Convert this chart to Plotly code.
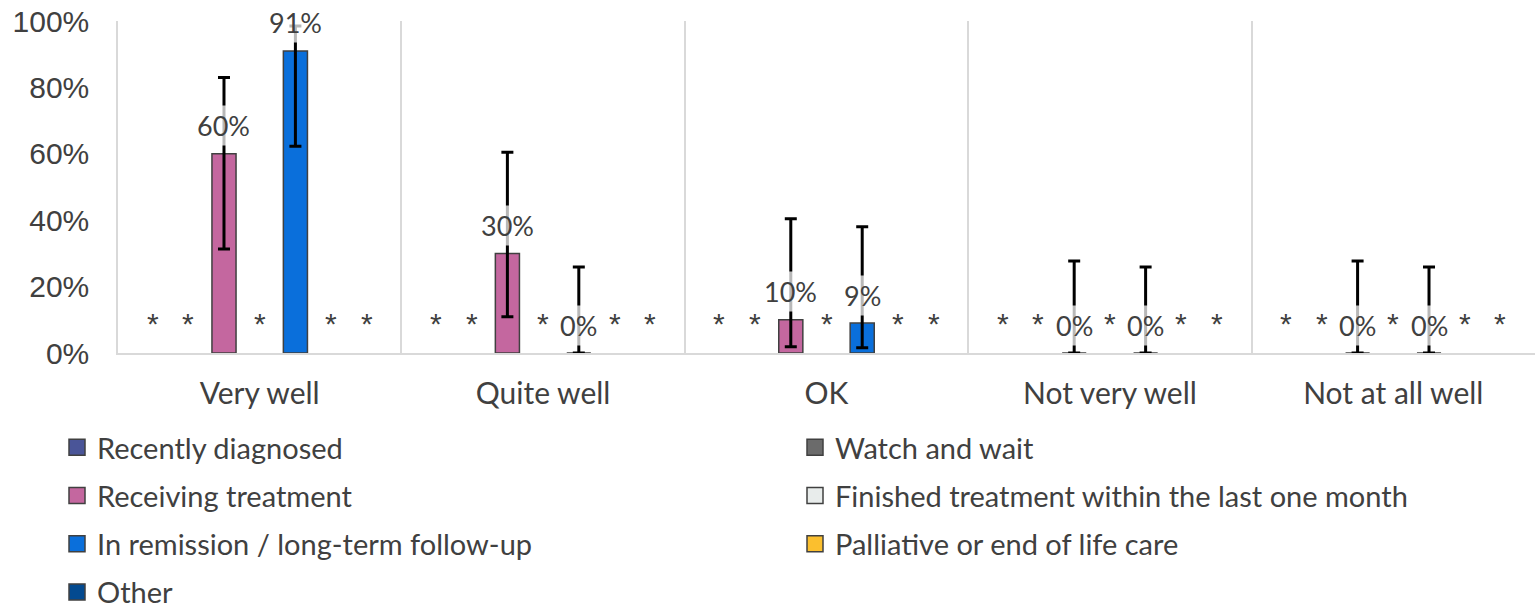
import plotly.graph_objects as go

categories = ["Very well", "Quite well", "OK", "Not very well", "Not at all well"]
series_names = [
    "Recently diagnosed",
    "Watch and wait",
    "Receiving treatment",
    "Finished treatment within the last one month",
    "In remission / long-term follow-up",
    "Palliative or end of life care",
    "Other",
]
series_colors = ["#4A5598", "#6B6B6B", "#C4679F", "#E8ECEB", "#0A6FDB", "#FBBF2E", "#034A90"]

# None = suppressed value (shown as "*")
values = {
    "Recently diagnosed": [None, None, None, None, None],
    "Watch and wait": [None, None, None, None, None],
    "Receiving treatment": [60, 30, 10, 0, 0],
    "Finished treatment within the last one month": [None, None, None, None, None],
    "In remission / long-term follow-up": [91, 0, 9, 0, 0],
    "Palliative or end of life care": [None, None, None, None, None],
    "Other": [None, None, None, None, None],
}
err_plus = {
    "Receiving treatment": [23, 30.5, 30.4, 27.7, 27.7],
    "In remission / long-term follow-up": [7.5, 25.9, 29, 25.9, 25.9],
}
err_minus = {
    "Receiving treatment": [28.7, 19.1, 8.1, 0, 0],
    "In remission / long-term follow-up": [28.7, 0, 7.4, 0, 0],
}

ytick_vals = [0, 20, 40, 60, 80, 100]
ytick_text = ["0%", "20%", "40%", "60%", "80%", "100%"]

LATO = "Lato"
TXT = "#404040"

W, H = 1540, 609

slot = 0.126
bar_w = 0.085
n = len(series_names)

fig = go.Figure()
annotations = []
for s, name in enumerate(series_names):
    off = (s - (n - 1) / 2) * slot
    xs = [i + off for i in range(len(categories))]
    vals = values[name]
    kw = {}
    if name in err_plus:
        kw["error_y"] = dict(type="data", array=err_plus[name], arrayminus=err_minus[name],
                             symmetric=False, color="black", thickness=3, width=6)
    fig.add_trace(go.Bar(
        x=xs, y=vals, width=bar_w, name=name, showlegend=False,
        marker=dict(color=series_colors[s], line=dict(color="#404040", width=1.5)),
        **kw,
    ))
    for i, v in enumerate(vals):
        if v is None:
            annotations.append(dict(
                x=xs[i], y=0, xref="x", yref="y", text="*", showarrow=False,
                yshift=30, yanchor="middle", xanchor="center",
                font=dict(family="Liberation Sans", size=30, color=TXT),
            ))
        else:
            annotations.append(dict(
                x=xs[i], y=v, xref="x", yref="y", text=f"{v}%", showarrow=False,
                yshift=28, yanchor="middle", xanchor="center",
                font=dict(family=LATO, size=27, color=TXT),
                bgcolor="rgba(255,255,255,0.72)", borderpad=3,
            ))

# legend proxies (two columns)
for s, name in enumerate(series_names):
    fig.add_trace(go.Scatter(
        x=[None], y=[None], mode="markers", name=name, legendgroup=name,
        legend="legend" if s % 2 == 0 else "legend2",
        marker=dict(symbol="square", size=20, color=series_colors[s],
                    line=dict(color="#404040", width=1.5)),
    ))

legend_common = dict(
    orientation="v", xref="container", yref="container", yanchor="top", xanchor="left",
    font=dict(family=LATO, size=29, color=TXT), tracegroupgap=7.5,
    bgcolor="rgba(0,0,0,0)", itemclick=False, itemdoubleclick=False,
)

fig.update_layout(
    width=W, height=H,
    margin=dict(l=118, r=5, t=21, b=256, autoexpand=False),
    paper_bgcolor="white", plot_bgcolor="white",
    barmode="overlay",
    showlegend=True,
    legend=dict(x=57 / W, y=1 - 422 / H, **legend_common),
    legend2=dict(x=795 / W, y=1 - 422 / H, **legend_common),
    annotations=annotations,
    xaxis=dict(
        range=[-0.5, len(categories) - 0.5],
        tickvals=list(range(len(categories))), ticktext=categories, tickangle=0,
        showgrid=False, zeroline=False,
        showline=True, linecolor="#D9D9D9", linewidth=2,
        ticks="outside", ticklen=13, tickcolor="rgba(0,0,0,0)",
        tickfont=dict(family=LATO, size=30, color=TXT),
        minor=dict(tickvals=[i + 0.5 for i in range(-1, len(categories))],
                   showgrid=True, gridcolor="#D9D9D9", gridwidth=1.5, ticks=""),
    ),
    yaxis=dict(
        range=[0, 100], tickvals=ytick_vals, ticktext=ytick_text,
        showgrid=False, zeroline=False,
        showline=True, linecolor="#D9D9D9", linewidth=1.5,
        ticks="outside", ticklen=21, tickcolor="rgba(0,0,0,0)",
        ticklabeloverflow="allow",
        tickfont=dict(family="Liberation Sans", size=30, color=TXT),
    ),
)

fig.write_html("out.html", config={"displayModeBar": False},
               post_script="document.body.style.margin='0';document.body.style.overflow='hidden';")
